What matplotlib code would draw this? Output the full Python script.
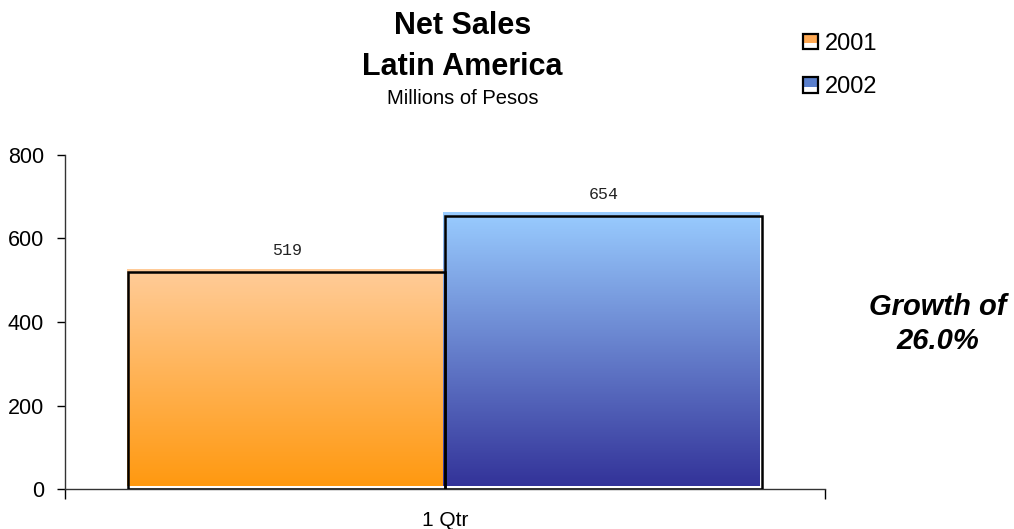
import matplotlib
matplotlib.use("Agg")
import matplotlib.pyplot as plt
import numpy as np
from matplotlib.colors import LinearSegmentedColormap
from matplotlib.patches import Rectangle
from matplotlib.legend_handler import HandlerBase
from matplotlib.transforms import ScaledTranslation

plt.rcParams['font.family'] = ['Liberation Sans', 'DejaVu Sans']

categories = ["1 Qtr"]
years = ["2001", "2002"]
sales = [519, 654]
y_ticks = [0, 200, 400, 600, 800]

# top / bottom colours of each bar's vertical gradient
grad_top = ["#FFCC99", "#99CCFF"]
grad_bottom = ["#FF9910", "#333399"]

fig = plt.figure(figsize=(10.14, 5.29), dpi=100)
ax = fig.add_axes([0.0641, 0.0756, 0.7495, 0.6314])

bar_w = 0.417
x = np.arange(len(categories))
offsets = [-bar_w / 2, bar_w / 2]

# the fill sits a little up and to the left of the black outline
shift = ScaledTranslation(-1.5 / 100, 3 / 100, fig.dpi_scale_trans)

for i, (yr, val) in enumerate(zip(years, sales)):
    cx = x[0] + offsets[i]
    cmap = LinearSegmentedColormap.from_list(yr, [grad_bottom[i], grad_top[i]])
    grad = np.linspace(0, 1, 256).reshape(-1, 1)
    im = ax.imshow(grad, cmap=cmap, origin="lower", aspect="auto",
                   extent=[cx - bar_w / 2, cx + bar_w / 2, 0, val], zorder=2)
    im.set_transform(ax.transData + shift)
    ax.bar(cx, val, width=bar_w, fill=False, edgecolor="black", linewidth=1.8, zorder=3)
    ax.text(cx, val + 52, f"{val}", ha="center", va="center",
            family="Liberation Mono", fontsize=12, color="#222222")

ax.set_xlim(-0.5, 0.5)
ax.set_ylim(0, 800)
ax.set_yticks(y_ticks)
ax.tick_params(axis="y", direction="out", length=6, width=1, labelsize=15.5, pad=9)
ax.set_xticks([-0.5, 0.5])
ax.set_xticklabels([])
ax.tick_params(axis="x", which="major", direction="out", length=7, width=1)
ax.set_xticks(x, minor=True)
ax.set_xticklabels(categories, minor=True)
ax.tick_params(axis="x", which="minor", length=0, labelsize=15, pad=16)

for s in ["top", "right"]:
    ax.spines[s].set_visible(False)
for s in ["left", "bottom"]:
    ax.spines[s].set_color("#333333")
    ax.spines[s].set_linewidth(1)


class SwatchHandler(HandlerBase):
    def create_artists(self, legend, orig_handle, xdescent, ydescent,
                       width, height, fontsize, trans):
        s = height
        x0, y0 = -xdescent, -ydescent
        base = Rectangle((x0, y0), s, s, facecolor="white", edgecolor="none", transform=trans)
        fill = Rectangle((x0 - 1, y0 + s * 0.4), s, s * 0.62,
                         facecolor=orig_handle.get_facecolor(), edgecolor="none", transform=trans)
        edge = Rectangle((x0, y0), s, s, facecolor="none", edgecolor="black",
                         linewidth=1.6, transform=trans)
        return [base, fill, edge]


handles = [Rectangle((0, 0), 1, 1, facecolor=c) for c in ["#FFAA55", "#5A7FCC"]]
fig.legend(handles, years, loc="upper left", bbox_to_anchor=(0.792, 0.9375),
           frameon=False, fontsize=17, handlelength=0.62, handleheight=0.62,
           handletextpad=0.3, labelspacing=0.9, borderpad=0, borderaxespad=0,
           handler_map={Rectangle: SwatchHandler()})

fig.text(0.456, 1 - 34 / 529, "Net Sales", ha="center", va="baseline",
         fontsize=22, fontweight="bold")
fig.text(0.456, 1 - 75 / 529, "Latin America", ha="center", va="baseline",
         fontsize=22, fontweight="bold")
fig.text(0.456, 1 - 104 / 529, "Millions of Pesos", ha="center", va="baseline",
         fontsize=14.5)

growth = (sales[1] / sales[0] - 1) * 100
fig.text(0.925, 1 - 315 / 529, "Growth of", ha="center", va="baseline",
         fontsize=21, fontweight="bold", fontstyle="italic")
fig.text(0.925, 1 - 349 / 529, f"{growth:.1f}%", ha="center", va="baseline",
         fontsize=21, fontweight="bold", fontstyle="italic")

fig.savefig("out.png", dpi=100)
